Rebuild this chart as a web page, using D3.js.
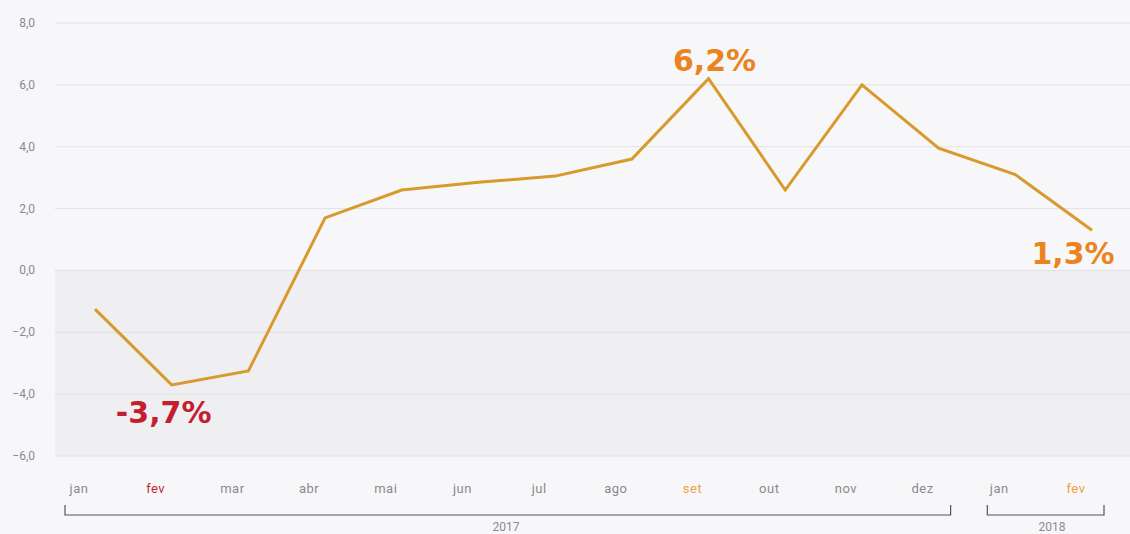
<!DOCTYPE html>
<html>
<head>
<meta charset="utf-8">
<script src="https://cdn.jsdelivr.net/npm/d3@7"></script>
<style>
  body { margin: 0; background: #f7f7f9; }
  text { font-family: Roboto, "Noto Sans", sans-serif; }
</style>
</head>
<body>
<div id="chart-area"></div>
<script>

// data
var months = ["jan", "fev", "mar", "abr", "mai", "jun", "jul", "ago", "set", "out", "nov", "dez", "jan", "fev"];
var values = [-1.25, -3.7, -3.25, 1.7, 2.6, 2.85, 3.05, 3.6, 6.2, 2.6, 6.0, 3.95, 3.1, 1.3];
var yTicks = [-6, -4, -2, 0, 2, 4, 6, 8];
var years = [{label: "2017", from: 0, to: 11}, {label: "2018", from: 12, to: 13}];
var highlights = [{i: 1, text: "-3,7%", color: "#c41f30"}, {i: 8, text: "6,2%", color: "#ea8420"}, {i: 13, text: "1,3%", color: "#ea8420"}];

var width = 1130, height = 534;

var svg = d3.select("#chart-area").append("svg")
    .attr("width", width)
    .attr("height", height);

// Scales
var x = d3.scalePoint()
    .domain(d3.range(months.length))
    .range([95, 1092]);

var y = d3.scaleLinear()
    .domain([-6, 8])
    .range([456, 23]);

var left = 55, right = 1130;

// shaded negative area
svg.append("rect")
    .attr("x", left)
    .attr("y", y(0))
    .attr("width", right - left)
    .attr("height", y(-6) - y(0))
    .attr("fill", "#efeff2");

// gridlines
svg.selectAll(".grid")
    .data(yTicks)
  .enter().append("line")
    .attr("class", "grid")
    .attr("x1", left)
    .attr("x2", right)
    .attr("y1", function(d) { return y(d); })
    .attr("y2", function(d) { return y(d); })
    .attr("stroke", "#e2e2e5")
    .attr("stroke-width", 1);

// y labels
svg.selectAll(".ylab")
    .data(yTicks)
  .enter().append("text")
    .attr("class", "ylab")
    .attr("x", 35)
    .attr("y", function(d) { return y(d) + 4; })
    .attr("text-anchor", "end")
    .attr("font-size", 12)
    .attr("fill", "#8a8a8e")
    .text(function(d) { return d3.format(".1f")(d).replace(".", ","); });

// line
var line = d3.line()
    .x(function(d, i) { return x(i); })
    .y(function(d) { return y(d); });

svg.append("path")
    .datum(values)
    .attr("d", line)
    .attr("fill", "none")
    .attr("stroke", "#d89a2c")
    .attr("stroke-width", 3)
    .attr("stroke-linejoin", "miter");

// month labels (sit a bit left of the points, like the original)
var colorFor = {1: "#c41f30", 8: "#f0a040", 13: "#f0a040"};
svg.selectAll(".mlab")
    .data(months)
  .enter().append("text")
    .attr("class", "mlab")
    .attr("x", function(d, i) { return x(i) - 16; })
    .attr("y", 493)
    .attr("text-anchor", "middle")
    .attr("font-size", 13)
    .attr("letter-spacing", 0.5)
    .attr("fill", function(d, i) { return colorFor[i] || "#8a8a8e"; })
    .text(function(d) { return d; });

// year brackets
var yr = svg.selectAll(".year")
    .data(years)
  .enter().append("g")
    .attr("class", "year");

yr.append("path")
    .attr("d", function(d) {
      var x1 = x(d.from) - 30, x2 = x(d.to) + 12;
      if (d.label == "2018") x1 = x(d.from) - 28;
      return "M" + x1 + ",505 V515 H" + x2 + " V505";
    })
    .attr("fill", "none")
    .attr("stroke", "#55555a")
    .attr("stroke-width", 1.2);

yr.append("text")
    .attr("x", function(d) { return d.label == "2017" ? 506 : 1052; })
    .attr("y", 531)
    .attr("text-anchor", "middle")
    .attr("font-size", 12)
    .attr("fill", "#8a8a8e")
    .text(function(d) { return d.label; });

// highlight labels
var offs = {1: [-8, 38], 8: [6, -8], 13: [-19, 34]};
svg.selectAll(".hl")
    .data(highlights)
  .enter().append("text")
    .attr("class", "hl")
    .attr("x", function(d) { return x(d.i) + offs[d.i][0]; })
    .attr("y", function(d) { return y(values[d.i]) + offs[d.i][1]; })
    .attr("text-anchor", "middle")
    .style("font-family", "'DejaVu Sans', sans-serif")
    .attr("font-size", 30)
    .attr("font-weight", "bold")
    .attr("fill", function(d) { return d.color; })
    .text(function(d) { return d.text; });

</script>
</body>
</html>
